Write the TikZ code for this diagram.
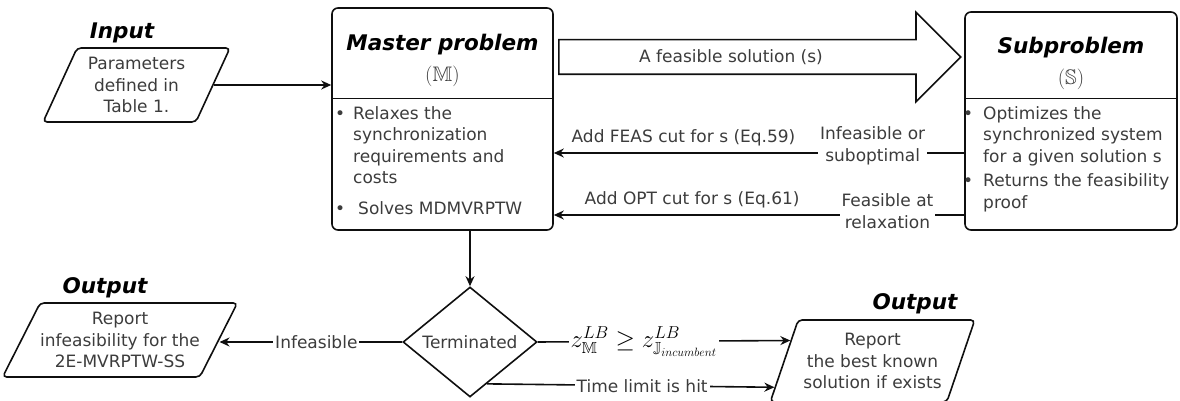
\documentclass[tikz,border=0pt]{standalone}
\usepackage{amssymb}
\usepackage{fontspec}
\setmainfont{DejaVu Sans}
\usetikzlibrary{positioning,arrows.meta,calc,shapes.geometric,shapes.arrows}
\definecolor{fcText}{RGB}{60,60,60}
\definecolor{fcLine}{RGB}{15,15,15}
\tikzset{
    base/.style={font=\fontsize{17}{21.5}\selectfont, text=fcText, align=center},
    heading/.style={font=\fontsize{21.5}{24}\selectfont\bfseries\itshape, text=black, inner sep=0pt},
    procbox/.style={rectangle, rounded corners=6pt, draw=fcLine, line width=1.6pt},
    iobox/.style={base, trapezium, trapezium stretches, draw=fcLine, line width=1.6pt,
                  rounded corners=4pt, inner sep=0pt},
    decision/.style={base, diamond, draw=fcLine, line width=1.6pt, inner sep=0pt,
                     aspect=1.22, minimum width=134pt, minimum height=110pt},
    flow/.style={-{Stealth[length=10pt,width=9pt]}, line width=1.6pt, color=fcLine},
    tag/.style={base, fill=white, inner sep=2pt},
    bullets/.style={base, align=left, inner sep=0pt, anchor=north west},
    hollow/.style={single arrow, draw=fcLine, line width=1.6pt, single arrow head extend=27.5pt,
                   single arrow head indent=0pt, text height=0pt, text depth=0pt,
                   inner ysep=16.5pt, inner xsep=0pt, minimum height=402pt}
}

\begin{document}
\begin{tikzpicture}[x=1pt, y=1pt]
  \useasboundingbox (0,0) rectangle (1180,401);

  % Input
  \node[heading] (inlabel) at (122,368) {Input};
  \node[iobox, trapezium left angle=63.4, trapezium right angle=116.6,
        minimum width=187pt, minimum height=74pt] (inp) at (136.5,316)
        {Parameters\\defined in\\Table 1.};

  % Master problem
  \node[procbox, minimum width=221pt, minimum height=222pt] (master) at (442.5,282) {};
  \node[heading] (mtitle) at ([yshift=-37pt]master.north) {Master problem};
  \node[base, font=\fontsize{21}{24}\selectfont, inner sep=0pt] (msym) at ([yshift=-69pt]master.north) {$(\mathbb{M})$};
  \draw[line width=1pt, fcLine] ([yshift=-91pt]master.north west) -- ([yshift=-91pt]master.north east);
  \node[bullets] (mlist) at (335,297) {%
    \begin{tabular}{@{}l@{\hspace{8pt}}l@{}}
      \textbullet & Relaxes the\\
      & synchronization\\
      & requirements and\\
      & costs\\[9pt]
      \textbullet & \hspace{5pt}Solves MDMVRPTW
    \end{tabular}};
  \draw[flow] (inp.east) -- (inp.east -| master.west);

  % Subproblem
  \node[procbox, minimum width=212pt, minimum height=218pt] (sub) at (1071,280) {};
  \node[heading] (stitle) at ([yshift=-36pt]sub.north) {Subproblem};
  \node[base, font=\fontsize{21}{24}\selectfont, inner sep=0pt] (ssym) at ([yshift=-68pt]sub.north) {$(\mathbb{S})$};
  \draw[line width=1pt, fcLine] ([yshift=-87pt]sub.north west) -- ([yshift=-87pt]sub.north east);
  \node[bullets] (slist) at (963,297) {%
    \begin{tabular}{@{}l@{\hspace{10pt}}l@{}}
      \textbullet & Optimizes the\\
      & synchronized system\\
      & for a given solution s\\[3pt]
      \textbullet & Returns the feasibility\\
      & proof
    \end{tabular}};

  % Solution passed to subproblem
  \node[hollow, anchor=tail] (solarrow) at (558,344) {};
  \node[base] (sollabel) at (731,344) {A feasible solution (s)};

  % Cuts back to master
  \coordinate (feasR) at ([yshift=-32pt]sub.west);
  \coordinate (optR) at ([yshift=-94pt]sub.west);
  \draw[flow] (feasR) -- node[tag, pos=0.223, yshift=7pt] {Infeasible or\\suboptimal}
                         node[base, pos=0.684, yshift=15pt] {Add FEAS cut for s (Eq.59)}
              (feasR -| master.east);
  \draw[flow] (optR) -- node[tag, pos=0.187, yshift=4pt] {Feasible at\\relaxation}
                        node[base, pos=0.663, yshift=15pt] {Add OPT cut for s (Eq.61)}
              (optR -| master.east);

  % Termination check
  \node[decision] (term) at (470,59) {Terminated};
  \draw[flow] (master.south -| term.north) -- (term.north);

  % Outputs
  \node[heading] (out1label) at (105,113) {Output};
  \node[iobox, trapezium left angle=56, trapezium right angle=124,
        minimum width=220pt, minimum height=74pt] (out1) at (120,61)
        {Report\\infeasibility for the\\2E-MVRPTW-SS};
  \node[heading] (out2label) at (915,97) {Output};
  \node[iobox, trapezium left angle=65, trapezium right angle=115,
        minimum width=205pt, minimum height=82pt] (out2) at (872.5,40)
        {Report\\the best known\\solution if exists};

  \draw[flow] (term.west) -- node[tag, pos=0.47] {Infeasible} (term.west -| out1.east);
  \draw[flow] (term.east) -- node[tag, pos=0.42, font=\fontsize{23}{26}\selectfont, text=black]
              {$z^{LB}_{\mathbb{M}} \geq z^{LB}_{\mathbb{J}_{incumbent}}$} (out2.166);
  \draw[flow] (term.-68) -- node[tag, pos=0.54] {Time limit is hit} (out2.195);
\end{tikzpicture}
\end{document}
